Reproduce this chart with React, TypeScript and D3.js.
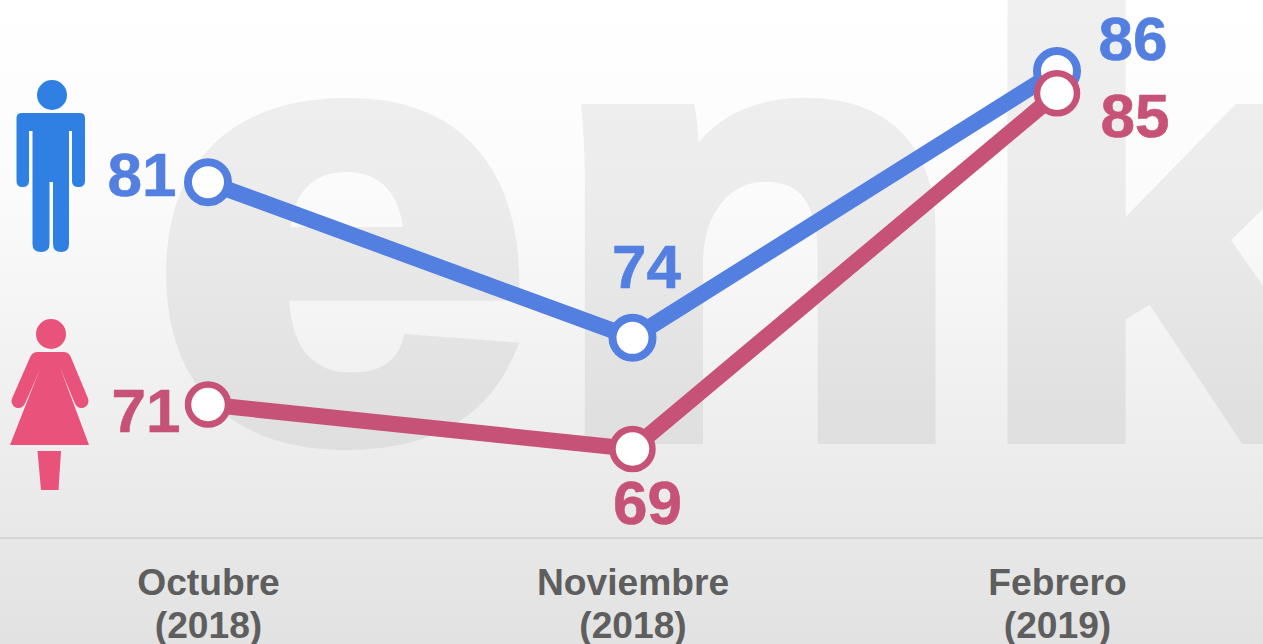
import React from 'react';
import * as d3 from 'd3';

const months = ['Octubre', 'Noviembre', 'Febrero'];
const years = ['(2018)', '(2018)', '(2019)'];
const menValues = [81, 74, 86];
const womenValues = [71, 69, 85];

const W = 1263;
const H = 644;
const BLUE = '#527fe0';
const PINK = '#c75277';
const FONT = '"Liberation Sans", Arial, sans-serif';

// label offset from each point, [dx, dy] to the middle / baseline of the text
const menLabelOffset = [[-66, 14], [14, -50], [76, -11]];
const womenLabelOffset = [[-62, 27], [15, 75], [78, 44]];

const x = d3.scalePoint<string>().domain(months).range([208, 1057]);
const y = d3.scaleLinear().domain([69, 86]).range([449, 71]);
const line = d3.line<number>()
  .x((d, i) => x(months[i]) as number)
  .y((d) => y(d));

function Series({ values, color, ring }: { values: number[]; color: string; ring: number }) {
  return (
    <g>
      <path d={line(values) as string} fill="none" stroke={color} strokeWidth={16} />
      {values.map((v, i) => (
        <circle key={i} cx={x(months[i])} cy={y(v)} r={20} fill="#fff" stroke={color} strokeWidth={ring} />
      ))}
    </g>
  );
}

function SeriesLabels({ values, color, offsets }: { values: number[]; color: string; offsets: number[][] }) {
  return (
    <g>
      {values.map((v, i) => (
        <text key={i} x={(x(months[i]) as number) + offsets[i][0]} y={y(v) + offsets[i][1]}
          textAnchor="middle" fontFamily={FONT} fontWeight="bold" fontSize={62}
          fill={color} stroke={color} strokeWidth={0.6}>{v}</text>
      ))}
    </g>
  );
}

function ManIcon() {
  return (
    <g fill="#3080e4">
      <circle cx={52} cy={95} r={15} />
      <path d="M22 113H80Q85 113 85 118V181Q85 187 78.500 187Q72 187 72 181V131H69V244Q69 252 61 252Q53 252 53 244V182H49.500V244Q49.500 252 41 252Q32.500 252 32.500 244V131H29V181Q29 187 22.500 187Q16.500 187 16.500 181V118Q16.500 113 22 113Z" />
    </g>
  );
}

function WomanIcon() {
  return (
    <g fill="#e9527b">
      <circle cx={51} cy={334} r={15} />
      <path d="M38 352H63V370H61L89 445H10L39.500 370H38Z" />
      <line x1={37} y1={359} x2={18.500} y2={401} stroke="#e9527b" strokeWidth={14} strokeLinecap="round" />
      <line x1={64} y1={359} x2={81.500} y2={401} stroke="#e9527b" strokeWidth={14} strokeLinecap="round" />
      <path d="M37.500 451H61L58.500 490H41Z" />
    </g>
  );
}

export default function App() {
  return (
    <svg width={W} height={H} viewBox={`0 0 ${W} ${H}`} style={{ position: 'absolute', left: 0, top: 0 }}>
      <defs>
        <linearGradient id="bg" x1="0" y1="0" x2="0" y2="1">
          <stop offset="0" stopColor="#ffffff" />
          <stop offset="0.3" stopColor="#fbfbfb" />
          <stop offset="1" stopColor="#e2e2e2" />
        </linearGradient>
      </defs>
      <rect width={W} height={H} fill="url(#bg)" />
      {/* watermark, stretched and stroked to get the heavy look */}
      <text transform="translate(152,433) scale(1.13,1)" x="0 352 726" y={0} fontFamily={FONT} fontWeight="bold"
        fontSize={602} fill="#000" stroke="#000" strokeWidth={22} opacity={0.055}>enk</text>
      <line x1={0} x2={W} y1={538} y2={538} stroke="#d4d4d4" strokeWidth={2} />
      <ManIcon />
      <WomanIcon />
      <Series values={menValues} color={BLUE} ring={8} />
      <Series values={womenValues} color={PINK} ring={6.5} />
      <SeriesLabels values={menValues} color={BLUE} offsets={menLabelOffset} />
      <SeriesLabels values={womenValues} color={PINK} offsets={womenLabelOffset} />
      {months.map((m, i) => (
        <g key={m} fontFamily={FONT} fontWeight="bold" fontSize={37.2} fill="#5e5e5e" textAnchor="middle">
          <text x={(x(m) as number) + 0.5} y={595}>{m}</text>
          <text x={(x(m) as number) + 0.5} y={638}>{years[i]}</text>
        </g>
      ))}
    </svg>
  );
}
